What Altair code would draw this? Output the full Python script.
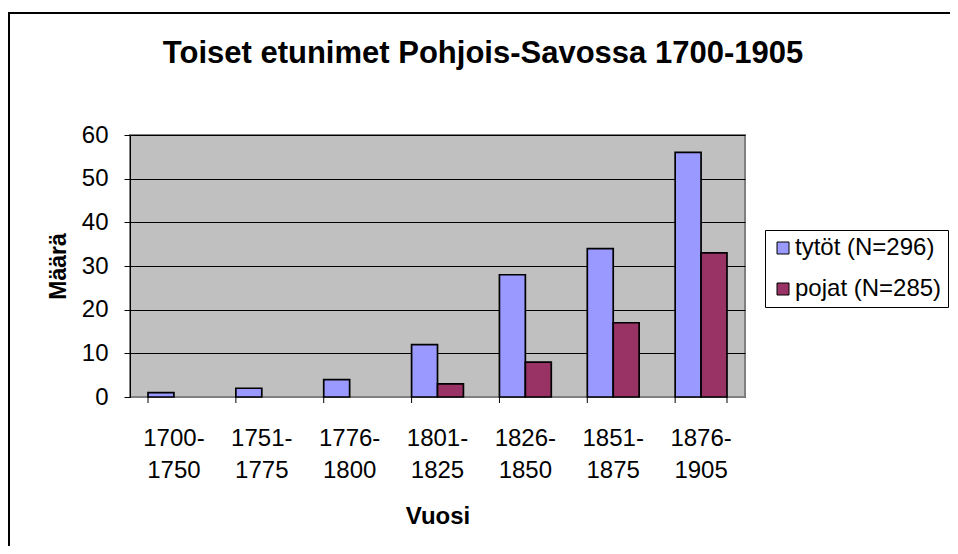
import altair as alt
import pandas as pd

periods = ["1700-1750", "1751-1775", "1776-1800", "1801-1825", "1826-1850", "1851-1875", "1876-1905"]
series = ["tytöt (N=296)", "pojat (N=285)"]
tytot = [1, 2, 4, 12, 28, 34, 56]
pojat = [0, 0, 0, 3, 8, 17, 33]
colors = ["#9999FF", "#993366"]
y_ticks = [0, 10, 20, 30, 40, 50, 60]
title_text = "Toiset etunimet Pohjois-Savossa 1700-1905"

rows = []
for p, a, b in zip(periods, tytot, pojat):
    rows.append({"Vuosi": p, "sarja": series[0], "Määrä": a})
    rows.append({"Vuosi": p, "sarja": series[1], "Määrä": b})
df = pd.DataFrame(rows)

W, H = 615, 262
FONT = "Liberation Sans"

xscale = alt.Scale(domain=periods, paddingInner=0.41, paddingOuter=0.205)

bars = alt.Chart(df).transform_filter("datum['Määrä'] > 0").mark_bar(
    stroke="black", strokeWidth=1.7
).encode(
    x=alt.X("Vuosi:N", sort=periods, scale=xscale,
            axis=alt.Axis(title="Vuosi", labelAngle=0, ticks=False, domain=True,
                          domainColor="#808080", labelFontSize=24, labelFont=FONT,
                          labelColor="black", labelPadding=29, labelLineHeight=32,
                          labelBaseline="top",
                          labelExpr="[slice(datum.label,0,5), slice(datum.label,5)]",
                          titleFontSize=24, titleFont=FONT, titleFontWeight="bold",
                          titleColor="black", titleY=119, titleBaseline="middle")),
    xOffset=alt.XOffset("sarja:N", sort=series),
    y=alt.Y("Määrä:Q", scale=alt.Scale(domain=[0, 60], nice=False),
            axis=alt.Axis(title="Määrä", values=y_ticks, grid=True, gridColor="black",
                          gridWidth=1, gridOpacity=1, tickColor="black", tickSize=6,
                          domainColor="black", labelFontSize=24, labelFont=FONT,
                          labelColor="black", labelPadding=16,
                          titleFontSize=23, titleFont=FONT, titleFontWeight="bold",
                          titleColor="black", titleX=-72, titleY=H / 2,
                          titleAngle=-90, titleAlign="center", titleBaseline="middle")),
    color=alt.Color("sarja:N", sort=series, scale=alt.Scale(domain=series, range=colors),
                    legend=alt.Legend(title=None, orient="none", legendX=635, legendY=95,
                                      strokeColor="black", fillColor="white", padding=6,
                                      symbolType="square", symbolSize=144,
                                      symbolStrokeColor="black", symbolStrokeWidth=1,
                                      labelFontSize=24, labelFont=FONT, labelColor="black",
                                      rowPadding=17, labelOffset=0)),
)

tick_df = pd.DataFrame({"Vuosi": periods})
ticks_left = alt.Chart(tick_df).mark_rule(color="black", strokeWidth=1).encode(
    x=alt.X("Vuosi:N", sort=periods, scale=xscale, bandPosition=0),
    y=alt.value(H), y2=alt.value(H + 6),
)
ticks_right = alt.Chart(pd.DataFrame({"Vuosi": [periods[-1]]})).mark_rule(color="black", strokeWidth=1).encode(
    x=alt.X("Vuosi:N", sort=periods, scale=xscale, bandPosition=1),
    y=alt.value(H), y2=alt.value(H + 6),
)

border = alt.Chart(pd.DataFrame({"a": [0]})).mark_rect(
    fill=None, stroke="black", strokeWidth=2, clip=False
).encode(
    x=alt.value(-121), x2=alt.value(900), y=alt.value(-122), y2=alt.value(600)
)

title = alt.Chart(pd.DataFrame({"t": [title_text]})).mark_text(
    font=FONT, fontSize=31, fontWeight="bold", color="black",
    align="center", baseline="alphabetic"
).encode(text="t:N", x=alt.value(353), y=alt.value(-72))

chart = alt.layer(border, bars, ticks_left, ticks_right, title).properties(
    width=W, height=H,
    autosize=alt.AutoSizeParams(type="none"),
    padding={"left": 122, "top": 127, "right": 205, "bottom": 149},
    background="white",
).configure_view(fill="#C0C0C0", stroke="#808080", strokeWidth=2)

chart.save("out.html", embed_options={"renderer": "svg", "actions": False})
